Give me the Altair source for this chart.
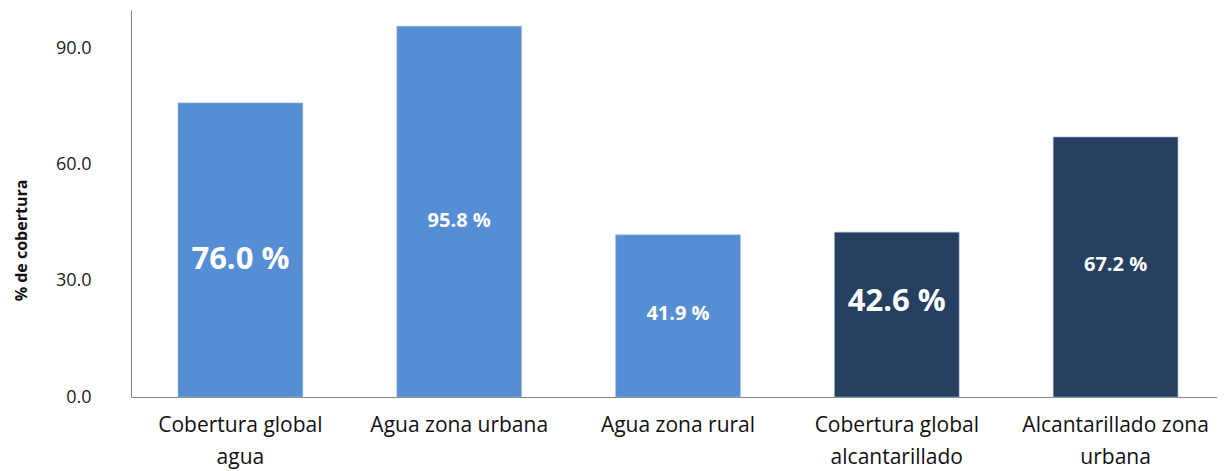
import altair as alt
import pandas as pd

# ---- data ----
categories = [
    "Cobertura global agua",
    "Agua zona urbana",
    "Agua zona rural",
    "Cobertura global alcantarillado",
    "Alcantarillado zona urbana",
]
coverage = [76.0, 95.8, 41.9, 42.6, 67.2]
label_text = ["76.0 %", "95.8 %", "41.9 %", "42.6 %", "67.2 %"]
label_at = [35.5, 45.5, 21.5, 24.6, 34.0]  # where each value label sits (data units)
group = ["agua", "agua", "agua", "alcantarillado", "alcantarillado"]
label_lines = [
    ["Cobertura global", "agua"],
    ["Agua zona urbana"],
    ["Agua zona rural"],
    ["Cobertura global", "alcantarillado"],
    ["Alcantarillado zona", "urbana"],
]
y_ticks = [0, 30, 60, 90]

# ---- styling ----
big_label_cats = {"Cobertura global agua", "Cobertura global alcantarillado"}
FONT = "Open Sans"
colors = {"agua": "#558ED5", "alcantarillado": "#254061"}

df = pd.DataFrame({
    "cat": categories,
    "v": coverage,
    "txt": label_text,
    "ly": label_at,
    "grp": group,
})
df["fs"] = [31 if c in big_label_cats else 20 for c in categories]


def js_str(s):
    return "'" + s.replace("'", "\\'") + "'"


label_expr = ""
for c, lines in zip(categories, label_lines):
    arr = "[" + ",".join(js_str(l) for l in lines) + "]"
    label_expr += f"datum.value == {js_str(c)} ? {arr} : "
label_expr += "datum.label"

x_scale = alt.Scale(paddingInner=0.43, paddingOuter=0.215, range=[0, 1094])

x = alt.X(
    "cat:N",
    sort=categories,
    scale=x_scale,
    axis=alt.Axis(
        title=None,
        labelAngle=0,
        ticks=False,
        grid=False,
        domainColor="#868686",
        domainWidth=1,
        labelFontSize=21,
        labelFont=FONT,
        labelColor="#111111",
        labelPadding=17,
        labelLineHeight=32,
        labelLimit=400,
        labelExpr=label_expr,
    ),
)

bars = alt.Chart(df).mark_bar(stroke="#9db3d1", strokeWidth=0.6).encode(
    x=x,
    y=alt.Y(
        "v:Q",
        scale=alt.Scale(domain=[0, 100], nice=False),
        axis=alt.Axis(
            values=y_ticks,
            format=".1f",
            grid=False,
            ticks=False,
            domainColor="#868686",
            labelFontSize=18,
            labelFont=FONT,
            labelColor="#222222",
            labelPadding=40,
            title="% de cobertura",
            titleFont=FONT,
            titleFontSize=16,
            titleFontWeight="bold",
            titleColor="#111111",
            titleAngle=-90,
            titleX=-110,
            titleY=230,
            titleAlign="center",
            titleBaseline="middle",
        ),
    ),
    color=alt.Color(
        "grp:N",
        scale=alt.Scale(domain=list(colors.keys()), range=list(colors.values())),
        legend=None,
    ),
)

labels = alt.Chart(df).mark_text(
    color="white", fontWeight="bold", font=FONT, baseline="middle", align="center"
).encode(
    x=alt.X("cat:N", sort=categories),
    y=alt.Y("ly:Q"),
    text="txt:N",
    size=alt.Size("fs:Q", scale=None),
)

chart = (
    alt.layer(bars, labels)
    .properties(
        width=1086,
        height=387,
        autosize=alt.AutoSizeParams(type="none"),
        padding={"left": 123, "top": 2, "right": 0, "bottom": 86},
    )
    .configure(font=FONT)
    .configure_view(strokeWidth=0)
)

chart.save("out.html", embed_options={"renderer": "svg", "actions": False})
